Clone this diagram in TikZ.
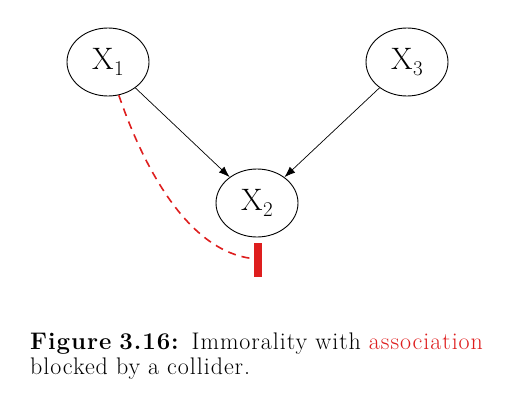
\documentclass[tikz,border=0pt]{standalone}
\usepackage{fontspec}
\newfontfamily\capfont{Latin Modern Roman}[LetterSpace=4]
\usetikzlibrary{arrows.meta,shapes.geometric}
\definecolor{assocred}{RGB}{222,30,30}
\newcommand{\varlabel}[1]{X\kern0.5pt\raisebox{-6pt}{\fontsize{21}{24}\selectfont #1}}
\tikzset{
  var/.style={draw, ellipse, line width=0.9pt, minimum width=82pt, minimum height=68pt, inner sep=0pt, font=\fontsize{31}{34}\selectfont},
  causal/.style={draw, line width=0.7pt, -{Latex[length=11pt,width=8pt]}},
  blockedpath/.style={draw=assocred, line width=1.6pt, dash pattern=on 8pt off 6pt},
  barstyle/.style={draw=assocred, line width=8pt},
}
\begin{document}
\begin{tikzpicture}[x=1pt,y=-1pt]
\useasboundingbox (0,0) rectangle (513,415);
\node[var] (x1) at (108,62) {\varlabel{1}};
\node[var] (x3) at (407,62) {\varlabel{3}};
\node[var] (x2) at (257,203) {\varlabel{2}};
\draw[causal] (x1) -- (x2);
\draw[causal] (x3) -- (x2);
\coordinate (barc) at (258,259);
\coordinate (bartop) at (258,243);
\coordinate (barbot) at (258,277);
\draw[blockedpath] (x1.-72) .. controls (148,180) and (195,256) .. (barc);
\draw[barstyle] (bartop) -- (barbot);
\node[anchor=base west, inner sep=0pt, text width=490pt, align=left,
      font=\capfont\fontsize{24}{25}\selectfont] (cap) at (30,349)
  {\textbf{Figure 3.16:} Immorality with \textcolor{assocred}{association}\\ blocked by a collider.};
\end{tikzpicture}
\end{document}
